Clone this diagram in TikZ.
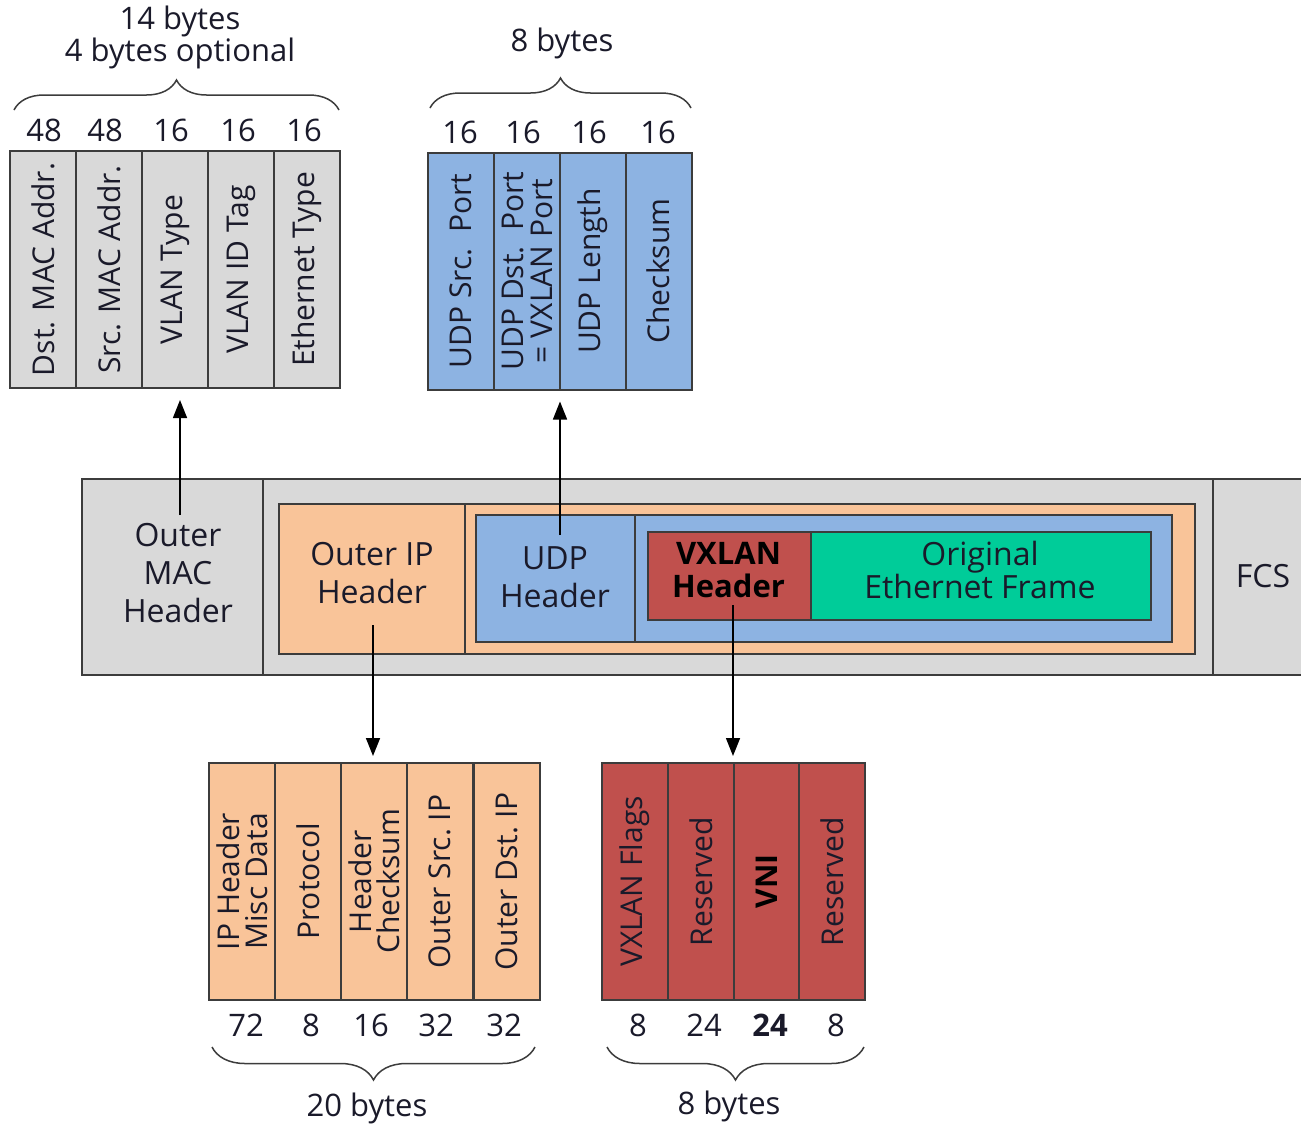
\documentclass[tikz,border=0pt]{standalone}
\usepackage{fontspec}
\setmainfont{Open Sans}
\usetikzlibrary{arrows.meta,decorations.pathreplacing}
\definecolor{cgray}{HTML}{D9D9D9}
\definecolor{corange}{HTML}{F9C499}
\definecolor{cblue}{HTML}{8DB3E2}
\definecolor{cred}{HTML}{C0504D}
\definecolor{cgreen}{HTML}{00CC99}
\definecolor{cbd}{HTML}{3C3C3C}
\definecolor{ctxt}{HTML}{1A1A2A}
\tikzset{
  field/.style={draw=cbd, line width=2pt, rotate=90, minimum width=237pt, minimum height=66pt,
    inner sep=0pt, align=center, text=ctxt, font=\fontsize{30}{29}\selectfont},
  blk/.style={draw=cbd, line width=2pt, anchor=north west, inner sep=0pt},
  big/.style={text=ctxt, align=center, font=\fontsize{32}{38}\selectfont},
  num/.style={text=ctxt, font=\fontsize{31}{30}\selectfont},
  ttl/.style={text=ctxt, align=center, font=\fontsize{31}{30}\selectfont},
  brc/.style={decorate, decoration={brace, amplitude=30pt}, line width=1.5pt, draw=cbd},
  arr/.style={line width=1.5pt, draw=black, -{Triangle[length=18pt,width=14pt]}},
  divl/.style={line width=2pt, draw=cbd},
}
\begin{document}
\begin{tikzpicture}[x=1pt,y=-1pt]
\clip (0,0) rectangle (1301,1125);
\fill[white] (0,0) rectangle (1301,1125);

% ---- top MAC fields
\node[field, fill=cgray] (m1) at (43,269.5) {Dst. MAC Addr.};
\node[field, fill=cgray] (m2) at (109,269.5) {Src. MAC Addr.};
\node[field, fill=cgray] (m3) at (175,269.5) {VLAN Type};
\node[field, fill=cgray] (m4) at (241,269.5) {VLAN ID Tag};
\node[field, fill=cgray] (m5) at (307,269.5) {Ethernet Type};
\node[num] at (44,130) {48};
\node[num] at (105,130) {48};
\node[num] at (171,130) {16};
\node[num] at (238,130) {16};
\node[num] at (304,130) {16};
\coordinate (mb1) at (14,110);
\coordinate (mb2) at (339,110);
\draw[brc] (mb1) -- (mb2);
\node[ttl] (mtitle) at (180,37) {14 bytes\\4 bytes optional};

% ---- top UDP fields
\node[field, fill=cblue] (u1) at (461,271) {UDP Src.\ \ Port};
\node[field, fill=cblue] (u2) at (527,271) {UDP Dst.\ \ Port\\= VXLAN Port};
\node[field, fill=cblue] (u3) at (593,271) {UDP Length};
\node[field, fill=cblue] (u4) at (658.5,271) {Checksum};
\node[num] at (460,132) {16};
\node[num] at (523,132) {16};
\node[num] at (589,132) {16};
\node[num] at (658,132) {16};
\coordinate (ub1) at (430,108);
\coordinate (ub2) at (691,108);
\draw[brc] (ub1) -- (ub2);
\node[ttl] (utitle) at (562,43) {8 bytes};

% ---- main bar
\node[blk, fill=cgray, minimum width=1250pt, minimum height=196pt] (bar) at (81,478) {};
\draw[divl] (263,478) -- (263,674);
\draw[divl] (1213,478) -- (1213,674);
\node[big] (omac) at (178,573) {Outer\\MAC\\Header};
\node[big] (fcs) at (1263,576) {FCS};

\node[blk, fill=corange, minimum width=916pt, minimum height=150pt] (ipo) at (278,503) {};
\draw[divl] (465,503) -- (465,653);
\node[big] (oip) at (372,573) {Outer IP\\Header};

\node[blk, fill=cblue, minimum width=696pt, minimum height=127pt] (udpo) at (475,514) {};
\draw[divl] (635,514) -- (635,641);
\node[big] (udp) at (555,577) {UDP\\Header};

\node[blk, fill=cred, minimum width=163pt, minimum height=88pt] (vx) at (647,531) {};
\node[blk, fill=cgreen, minimum width=340pt, minimum height=88pt] (orig) at (810,531) {};
\node[big, font=\bfseries\fontsize{31}{33}\selectfont, text=black] (vxt) at (728.5,570) {VXLAN\\Header};
\node[big, font=\fontsize{32}{33}\selectfont] (origt) at (980,570) {Original\\Ethernet Frame};

% ---- bottom IP fields
\node[field, fill=corange, font=\fontsize{30}{28}\selectfont] (i1) at (242,881.5) {IP Header\\Misc Data};
\node[field, fill=corange] (i2) at (308,881.5) {Protocol};
\node[field, fill=corange, font=\fontsize{30}{28}\selectfont] (i3) at (374,881.5) {Header\\Checksum};
\node[field, fill=corange] (i4) at (440,881.5) {Outer Src.\ IP};
\node[field, fill=corange] (i5) at (506.5,881.5) {Outer Dst.\ IP};
\node[num] at (246,1025) {72};
\node[num] at (311,1025) {8};
\node[num] at (371,1025) {16};
\node[num] at (436,1025) {32};
\node[num] at (504,1025) {32};
\coordinate (ib1) at (535,1047);
\coordinate (ib2) at (212,1047);
\draw[brc, decoration={amplitude=33pt}] (ib1) -- (ib2);
\node[ttl] (ititle) at (367,1108) {20 bytes};

% ---- bottom VXLAN fields
\node[field, fill=cred] (v1) at (635,881.5) {VXLAN Flags};
\node[field, fill=cred] (v2) at (701,881.5) {Reserved};
\node[field, fill=cred, font=\bfseries\fontsize{30}{29}\selectfont, text=black] (v3) at (767,881.5) {VNI};
\node[field, fill=cred] (v4) at (832,881.5) {Reserved};
\node[num] at (638,1025) {8};
\node[num] at (704,1025) {24};
\node[num, font=\bfseries\fontsize{31}{30}\selectfont] at (770,1025) {24};
\node[num] at (836,1025) {8};
\coordinate (vb1) at (864,1047);
\coordinate (vb2) at (607,1047);
\draw[brc, decoration={amplitude=33pt}] (vb1) -- (vb2);
\node[ttl] (vtitle) at (729,1106) {8 bytes};

% ---- arrows
\coordinate (a1s) at (180,515);
\coordinate (a2s) at (560,535);
\coordinate (a3s) at (373,625);
\coordinate (a4s) at (733,605);
\draw[arr, shorten >=11pt] (a1s) -- (a1s |- m3.west);
\draw[arr, shorten >=11pt] (a2s) -- (a2s |- u2.west);
\draw[arr, shorten >=6pt] (a3s) -- (a3s |- i3.east);
\draw[arr, shorten >=6pt] (a4s) -- (a4s |- v3.east);
\end{tikzpicture}
\end{document}
